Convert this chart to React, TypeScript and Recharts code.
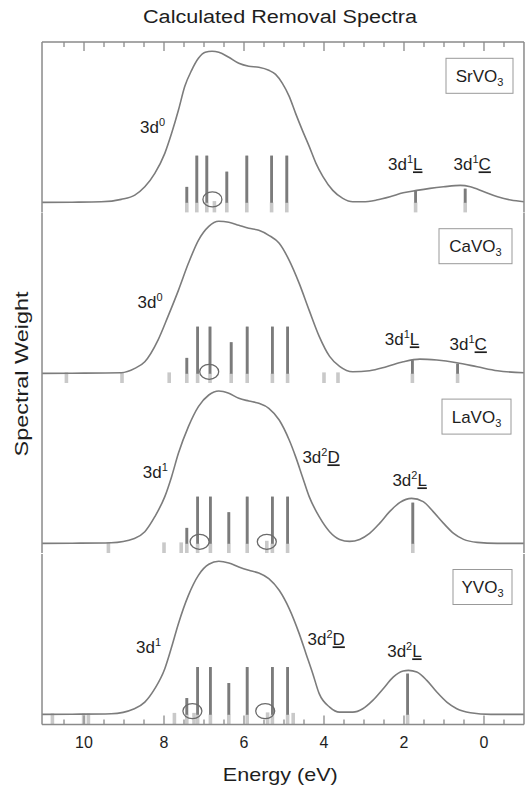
import React from 'react';
import { ComposedChart, Line, XAxis, YAxis, ReferenceLine, Scatter } from 'recharts';

// ---------- data ----------
const X_DOMAIN: [number, number] = [-1, 11.05];
const Y_MIN = -0.1;
const Y_DOMAIN: [number, number] = [Y_MIN, 1.603];
const TICKS = [-0.5, 0, 0.5, 1, 1.5, 2, 2.5, 3, 3.5, 4, 4.5, 5, 5.5, 6, 6.5, 7, 7.5, 8, 8.5, 9, 9.5, 10, 10.5];
const MAJOR_TICKS = [0, 2, 4, 6, 8, 10];

const PANEL_NAMES = ['SrVO', 'CaVO', 'LaVO', 'YVO'];

// SrVO3
const SR_E = [11.05, 10.3, 9.57, 9.07, 8.73, 8.48, 8.23, 7.98, 7.81, 7.64, 7.48, 7.31, 7.14, 6.97, 6.8, 6.63, 6.38, 6.13, 5.88, 5.63, 5.38, 5.21, 5.04, 4.87, 4.71, 4.54, 4.37, 4.2, 4.03, 3.78, 3.53, 3.28, 3.03, 2.69, 2.35, 2.02, 1.68, 1.35, 1.01, 0.59, 0.34, 0.0, -0.34, -0.67, -1.0];
const SR_V = [0, 0.002, 0.006, 0.03, 0.073, 0.156, 0.29, 0.49, 0.69, 0.92, 1.16, 1.32, 1.44, 1.5, 1.51, 1.5, 1.45, 1.39, 1.36, 1.35, 1.32, 1.28, 1.19, 1.06, 0.89, 0.72, 0.56, 0.39, 0.26, 0.12, 0.04, 0.006, 0.006, 0.023, 0.056, 0.096, 0.12, 0.14, 0.156, 0.17, 0.156, 0.106, 0.056, 0.023, 0.006];
const SR_STEM_E = [7.43, 7.18, 6.93, 6.43, 5.93, 5.31, 4.93, 1.71, 0.47];
const SR_STEM_H = [0.156, 0.466, 0.466, 0.306, 0.466, 0.466, 0.466, 0.116, 0.14];
const SR_STUB_E = [6.74];
const SR_STUB_TOP = [0.013];
const SR_CIRCLE_E = [6.79];
const SR_CIRCLE_V = [0.03];
const SR_LABEL_E = [8.6, 2.4, 0.76];
const SR_LABEL_V = [0.69, 0.32, 0.32];
const SR_LABEL_SUP = ['0', '1', '1'];
const SR_LABEL_U = ['', 'L', 'C'];

// CaVO3
const CA_E = [11.05, 10.3, 9.07, 8.73, 8.48, 8.15, 7.9, 7.64, 7.39, 7.14, 6.88, 6.63, 6.38, 6.13, 5.88, 5.63, 5.38, 5.12, 4.87, 4.62, 4.37, 4.12, 3.86, 3.61, 3.28, 2.86, 2.44, 2.02, 1.6, 1.18, 0.68, 0.17, -0.34, -1.0];
const CA_V = [0, 0.002, 0.007, 0.05, 0.117, 0.333, 0.57, 0.83, 1.1, 1.33, 1.47, 1.52, 1.51, 1.48, 1.45, 1.43, 1.38, 1.3, 1.13, 0.9, 0.63, 0.37, 0.17, 0.07, 0.016, 0.026, 0.066, 0.116, 0.143, 0.133, 0.106, 0.066, 0.026, 0.006];
const CA_STEM_E = [7.43, 7.16, 6.85, 6.32, 5.92, 5.29, 4.91, 1.79, 0.66];
const CA_STEM_H = [0.156, 0.466, 0.466, 0.31, 0.466, 0.466, 0.466, 0.133, 0.1];
const CA_STUB_E = [10.44, 9.05, 7.87, 4.0, 3.65];
const CA_STUB_TOP = [0.01, 0.01, 0.01, 0.01, 0.01];
const CA_CIRCLE_E = [6.87];
const CA_CIRCLE_V = [0.016];
const CA_LABEL_E = [8.66, 2.48, 0.86];
const CA_LABEL_V = [0.65, 0.28, 0.23];
const CA_LABEL_SUP = ['0', '1', '1'];
const CA_LABEL_U = ['', 'L', 'C'];

// LaVO3
const LA_E = [11.05, 10.3, 9.32, 8.74, 8.48, 8.23, 7.98, 7.81, 7.64, 7.39, 7.14, 6.88, 6.63, 6.38, 6.13, 5.88, 5.63, 5.38, 5.12, 4.87, 4.71, 4.54, 4.37, 4.12, 3.86, 3.61, 3.36, 3.11, 2.86, 2.61, 2.36, 2.1, 1.81, 1.52, 1.27, 1.01, 0.76, 0.51, 0.17, -0.33, -1.0];
const LA_V = [0, 0.002, 0.007, 0.05, 0.117, 0.267, 0.467, 0.667, 0.9, 1.167, 1.367, 1.483, 1.523, 1.5, 1.45, 1.423, 1.4, 1.35, 1.233, 1.033, 0.867, 0.667, 0.467, 0.267, 0.117, 0.04, 0.02, 0.04, 0.1, 0.2, 0.317, 0.41, 0.45, 0.417, 0.317, 0.2, 0.1, 0.04, 0.01, 0, 0];
const LA_STEM_E = [7.43, 7.16, 6.84, 6.38, 5.92, 5.29, 4.91, 1.78];
const LA_STEM_H = [0.156, 0.466, 0.466, 0.31, 0.466, 0.466, 0.466, 0.406];
const LA_STUB_E = [9.39, 8.0, 7.57, 5.43];
const LA_STUB_TOP = [0.01, 0.01, 0.01, 0.026];
const LA_CIRCLE_E = [7.11, 5.43];
const LA_CIRCLE_V = [0.016, 0.016];
const LA_LABEL_E = [8.53, 4.54, 2.29];
const LA_LABEL_V = [0.65, 0.8, 0.57];
const LA_LABEL_SUP = ['1', '2', '2'];
const LA_LABEL_U = ['', 'D', 'L'];

// YVO3
const Y_E = [11.05, 10.3, 9.32, 8.74, 8.48, 8.23, 7.98, 7.81, 7.64, 7.39, 7.14, 6.88, 6.63, 6.38, 6.13, 5.88, 5.63, 5.38, 5.12, 4.87, 4.62, 4.45, 4.28, 4.12, 3.86, 3.61, 3.28, 3.03, 2.78, 2.52, 2.27, 2.02, 1.89, 1.68, 1.43, 1.18, 0.93, 0.68, 0.34, -0.17, -1.0];
const Y_V = [0, 0.002, 0.007, 0.057, 0.123, 0.257, 0.457, 0.673, 0.907, 1.19, 1.39, 1.5, 1.53, 1.513, 1.473, 1.44, 1.413, 1.357, 1.24, 1.057, 0.807, 0.607, 0.407, 0.207, 0.073, 0.023, 0.023, 0.057, 0.14, 0.257, 0.373, 0.433, 0.44, 0.423, 0.34, 0.223, 0.123, 0.057, 0.017, 0, 0];
const Y_STEM_E = [7.43, 7.16, 6.84, 6.38, 5.92, 5.29, 4.91, 1.91];
const Y_STEM_H = [0.163, 0.473, 0.473, 0.313, 0.473, 0.473, 0.473, 0.407];
const Y_STUB_E = [10.79, 10.01, 9.89, 7.74, 7.25, 5.41, 4.77];
const Y_STUB_TOP = [0.01, 0.01, 0.01, 0.015, 0.015, 0.02, 0.015];
const Y_CIRCLE_E = [7.29, 5.47];
const Y_CIRCLE_V = [0.033, 0.033];
const Y_LABEL_E = [8.7, 4.41, 2.42];
const Y_LABEL_V = [0.61, 0.69, 0.57];
const Y_LABEL_SUP = ['1', '2', '2'];
const Y_LABEL_U = ['', 'D', 'L'];

// ---------- styles ----------
const FONT = '"Liberation Sans", Arial, Helvetica, sans-serif';
const FRAME = '#8a8a8a';
const CURVE = '#7c7c7c';
const TEXT = '#1e1e1e';
const LIGHT = '#c9c9c9';
const DARK_BASE = '#a2a2a2';
const DARK = '#555555';
const FRAME_TOP = 42.3;
const PANEL_H = 170.4;
const AXIS_H = 66;
const W = 527;
const BOX_LEFT = [446, 439, 442, 453];
const BOX_RIGHT = [513, 512, 511, 512];

const TopTick = (props: any) => {
  const { x, y, payload } = props;
  const major = MAJOR_TICKS.includes(payload.value);
  return <line x1={x} x2={x} y1={y} y2={y + (major ? 9 : 5)} stroke={FRAME} strokeWidth={1.3} />;
};

const BottomTick = (props: any) => {
  const { x, y, payload } = props;
  const major = MAJOR_TICKS.includes(payload.value);
  return (
    <g>
      <line x1={x} x2={x} y1={y} y2={y - (major ? 9 : 5)} stroke={FRAME} strokeWidth={1.3} />
      {major ? (
        <text x={x} y={y + 23.3} textAnchor="middle" fontSize={16} fontFamily={FONT} fill={TEXT}>
          {payload.value}
        </text>
      ) : null}
    </g>
  );
};

const CircleShape = (p: any) => (
  <ellipse cx={p.cx} cy={p.cy} rx={9.5} ry={7.5} fill="none" stroke="#6a6a6a" strokeWidth={1.3} />
);

const LabelShape = (p: any) => {
  const { cx, cy, payload } = p;
  return (
    <text x={cx} y={cy} fontFamily={FONT} fontSize={17} fill={TEXT}>
      <tspan>3d</tspan>
      <tspan fontSize={11} dy={-7}>{payload.sup}</tspan>
      {payload.u ? (
        <tspan dy={7} style={{ textDecoration: 'underline' }}>{payload.u}</tspan>
      ) : null}
    </text>
  );
};

type PanelProps = {
  idx: number;
  curveE: number[];
  curveV: number[];
  stemE: number[];
  stemH: number[];
  stubE: number[];
  stubTop: number[];
  circleE: number[];
  circleV: number[];
  labelE: number[];
  labelV: number[];
  labelSup: string[];
  labelU: string[];
};

function Panel(props: PanelProps) {
  const { idx } = props;
  const isTop = idx === 0;
  const isBottom = idx === 3;
  const data = props.curveE.map((e, i) => ({ e, v: props.curveV[i] }));
  const circles = props.circleE.map((e, i) => ({ e, v: props.circleV[i] }));
  const labels = props.labelE.map((e, i) => ({ e, v: props.labelV[i], sup: props.labelSup[i], u: props.labelU[i] }));
  const axisH = isBottom ? AXIS_H : isTop ? 1 : 0;
  const height = PANEL_H + axisH;
  const divTop = FRAME_TOP + idx * PANEL_H - (isTop ? 1 : 0);

  const refs: React.ReactNode[] = [];
  props.stemE.forEach((e, i) => {
    refs.push(
      <ReferenceLine key={`l${i}`} segment={[{ x: e, y: Y_MIN }, { x: e, y: 0 }]} stroke={LIGHT} strokeWidth={3.6} ifOverflow="visible" />
    );
    refs.push(
      <ReferenceLine key={`b${i}`} segment={[{ x: e, y: 0 }, { x: e, y: props.stemH[i] }]} stroke={DARK_BASE} strokeWidth={2.8} ifOverflow="visible" />
    );
    refs.push(
      <ReferenceLine key={`d${i}`} segment={[{ x: e, y: 0 }, { x: e, y: props.stemH[i] }]} stroke={DARK} strokeWidth={2.8} strokeDasharray="1 1" ifOverflow="visible" />
    );
  });
  props.stubE.forEach((e, i) => {
    refs.push(
      <ReferenceLine key={`s${i}`} segment={[{ x: e, y: Y_MIN }, { x: e, y: props.stubTop[i] }]} stroke={LIGHT} strokeWidth={3.6} ifOverflow="visible" />
    );
  });

  return (
    <div style={{ position: 'absolute', left: 0, top: divTop, width: W, height }}>
      <ComposedChart width={W} height={height} data={data} margin={{ top: 0, right: 2, bottom: 0, left: 41 }}>
        <XAxis
          type="number"
          dataKey="e"
          domain={X_DOMAIN}
          reversed
          allowDataOverflow
          ticks={TICKS}
          interval={0}
          orientation={isTop ? 'top' : 'bottom'}
          hide={!isTop && !isBottom}
          height={axisH}
          tickSize={0}
          tickMargin={0}
          tickLine={false}
          axisLine={{ stroke: FRAME, strokeWidth: 1.5 }}
          tick={isTop ? <TopTick /> : <BottomTick />}
        />
        <YAxis type="number" domain={Y_DOMAIN} allowDataOverflow width={1} tick={false} tickLine={false} axisLine={{ stroke: FRAME, strokeWidth: 1.5 }} />
        <YAxis yAxisId="r" orientation="right" type="number" domain={Y_DOMAIN} allowDataOverflow width={1} tick={false} tickLine={false} axisLine={{ stroke: FRAME, strokeWidth: 1.5 }} />
        {refs}
        <Line dataKey="v" type="monotone" stroke={CURVE} strokeWidth={1.6} dot={false} activeDot={false} isAnimationActive={false} />
        <Scatter data={circles} dataKey="v" shape={CircleShape} isAnimationActive={false} />
        <Scatter data={labels} dataKey="v" shape={LabelShape} isAnimationActive={false} />
      </ComposedChart>
    </div>
  );
}

export default function App() {
  const panels: PanelProps[] = [
    { idx: 0, curveE: SR_E, curveV: SR_V, stemE: SR_STEM_E, stemH: SR_STEM_H, stubE: SR_STUB_E, stubTop: SR_STUB_TOP, circleE: SR_CIRCLE_E, circleV: SR_CIRCLE_V, labelE: SR_LABEL_E, labelV: SR_LABEL_V, labelSup: SR_LABEL_SUP, labelU: SR_LABEL_U },
    { idx: 1, curveE: CA_E, curveV: CA_V, stemE: CA_STEM_E, stemH: CA_STEM_H, stubE: CA_STUB_E, stubTop: CA_STUB_TOP, circleE: CA_CIRCLE_E, circleV: CA_CIRCLE_V, labelE: CA_LABEL_E, labelV: CA_LABEL_V, labelSup: CA_LABEL_SUP, labelU: CA_LABEL_U },
    { idx: 2, curveE: LA_E, curveV: LA_V, stemE: LA_STEM_E, stemH: LA_STEM_H, stubE: LA_STUB_E, stubTop: LA_STUB_TOP, circleE: LA_CIRCLE_E, circleV: LA_CIRCLE_V, labelE: LA_LABEL_E, labelV: LA_LABEL_V, labelSup: LA_LABEL_SUP, labelU: LA_LABEL_U },
    { idx: 3, curveE: Y_E, curveV: Y_V, stemE: Y_STEM_E, stemH: Y_STEM_H, stubE: Y_STUB_E, stubTop: Y_STUB_TOP, circleE: Y_CIRCLE_E, circleV: Y_CIRCLE_V, labelE: Y_LABEL_E, labelV: Y_LABEL_V, labelSup: Y_LABEL_SUP, labelU: Y_LABEL_U },
  ];
  return (
    <div style={{ position: 'absolute', left: 0, top: 0, width: W, height: 790, background: '#fff', overflow: 'hidden' }}>
      {panels.map((p) => (
        <Panel key={p.idx} {...p} />
      ))}
      <svg width={W} height={790} style={{ position: 'absolute', left: 0, top: 0, pointerEvents: 'none' }}>
        <text x={280} y={23} textAnchor="middle" fontFamily={FONT} fontSize={18} fill={TEXT} textLength={274} lengthAdjust="spacingAndGlyphs">
          Calculated Removal Spectra
        </text>
        <text x={280.3} y={780.5} textAnchor="middle" fontFamily={FONT} fontSize={19} fill={TEXT} textLength={115} lengthAdjust="spacingAndGlyphs">
          Energy (eV)
        </text>
        <text x={28} y={374} transform="rotate(-90, 28, 374)" textAnchor="middle" fontFamily={FONT} fontSize={19} fill={TEXT} textLength={165} lengthAdjust="spacingAndGlyphs">
          Spectral Weight
        </text>
        {PANEL_NAMES.map((name, i) => {
          const top = FRAME_TOP + i * PANEL_H + 16;
          const cx = (BOX_LEFT[i] + BOX_RIGHT[i]) / 2;
          return (
            <g key={name}>
              <rect x={BOX_LEFT[i]} y={top} width={BOX_RIGHT[i] - BOX_LEFT[i]} height={35} fill="#fff" stroke="#999" strokeWidth={1} />
              <text x={cx} y={top + 23.5} textAnchor="middle" fontFamily={FONT} fontSize={17} fill={TEXT}>
                {name}
                <tspan fontSize={11} dy={4}>3</tspan>
              </text>
            </g>
          );
        })}
      </svg>
    </div>
  );
}
